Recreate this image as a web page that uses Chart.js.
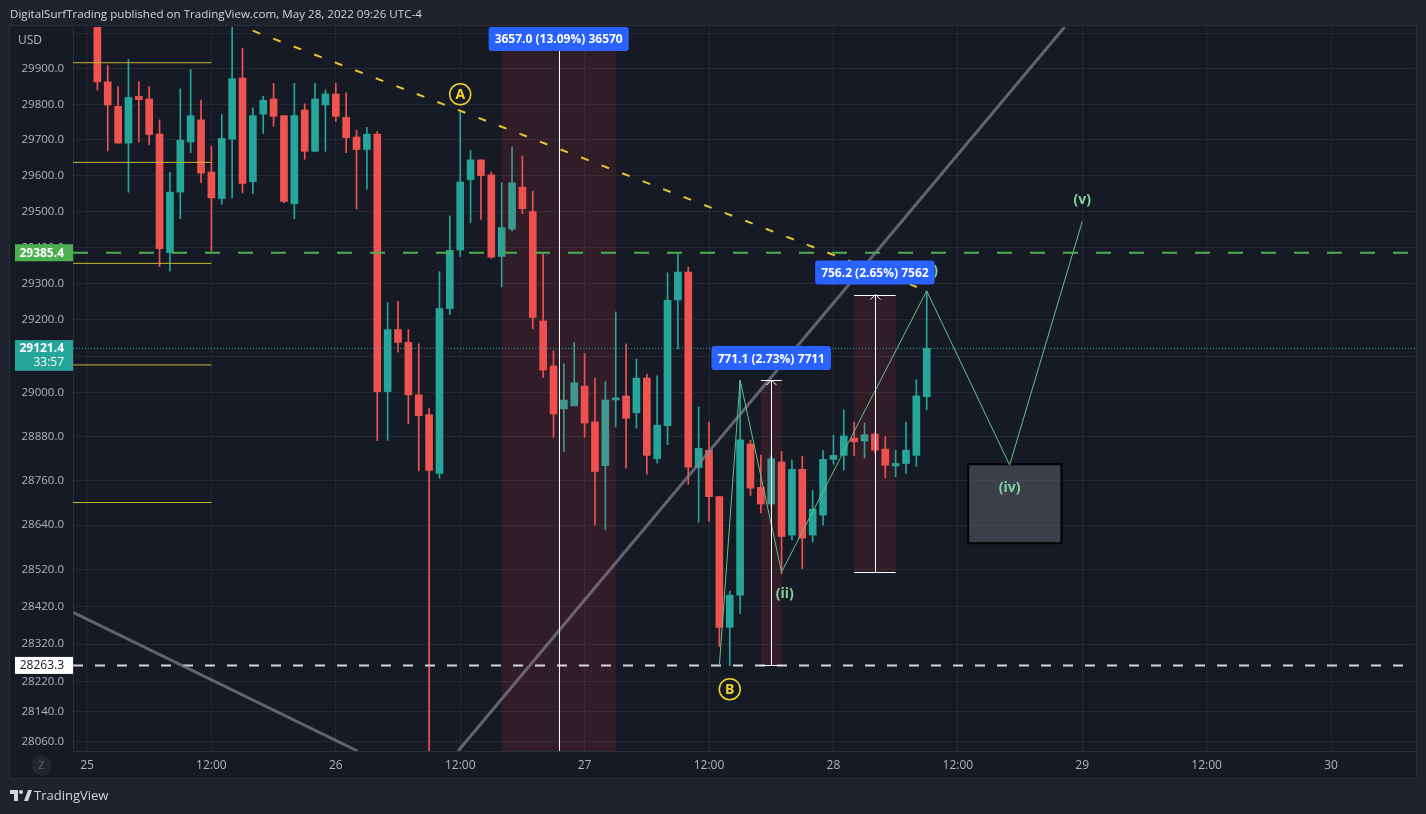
<!DOCTYPE html>
<html>
<head>
<meta charset="utf-8">
<title>BTCUSD 1h</title>
<script src="https://cdn.jsdelivr.net/npm/chart.js@4.4.1/dist/chart.umd.min.js"></script>
<style>
  html, body { margin: 0; padding: 0; background: #1e222d; }
  canvas { display: block; }
</style>
</head>
<body>
<canvas id="chart" width="1426" height="814"></canvas>
<script>
// hourly candles, x = hours since May 25 00:00 (UTC-4), first candle at 01:00
const firstHour = 1;
const opens = [30050, 29863, 29794, 29691, 29822, 29815, 29716, 29386, 29554, 29694,
  29756, 29610, 29536, 29702, 29874, 29583, 29772, 29815, 29768, 29522,
  29784, 29668, 29798, 29829, 29763, 29708, 29673, 29716, 29003, 29173,
  29138, 28994, 28940, 28780, 29231, 29393, 29589, 29644, 29602, 29375,
  29451, 29568, 29500, 29197, 29073, 28956, 28964, 29018, 28920, 28801,
  28980, 28991, 28945, 29040, 28820, 28910, 29255, 29332, 28796, 28843,
  28717, 28365, 28451, 28860, 28742, 28697, 28811, 28613, 28791, 28613,
  28667, 28818, 28829, 28876, 28868, 28887, 28846, 28800, 28807, 28829,
  28989];
const highs = [30090, 29909, 29850, 29926, 29864, 29850, 29756, 29609, 29843, 29898,
  29812, 29682, 29771, 30040, 29958, 29790, 29822, 29859, 29768, 29859,
  29801, 29859, 29840, 29859, 29832, 29727, 29735, 29724, 29247, 29251,
  29173, 29134, 28958, 29333, 29488, 29778, 29670, 29644, 29610, 29580,
  29680, 29655, 29556, 29382, 29115, 29079, 29138, 29107, 29040, 29030,
  29222, 29134, 29092, 29051, 29046, 29330, 29382, 29346, 28961, 28920,
  28717, 28462, 29034, 28870, 28830, 28830, 28840, 28816, 28827, 28734,
  28843, 28884, 28953, 28920, 28917, 28890, 28880, 28843, 28920, 29036,
  29279];
const lows = [29840, 29669, 29690, 29554, 29694, 29686, 29347, 29335, 29480, 29664,
  29580, 29390, 29520, 29538, 29552, 29550, 29718, 29738, 29524, 29480,
  29646, 29668, 29668, 29752, 29664, 29507, 29562, 28869, 28870, 29111,
  28915, 28787, 27900, 28767, 29214, 29375, 29469, 29478, 29370, 29291,
  29446, 29494, 29176, 29042, 28878, 28839, 28964, 28878, 28640, 28627,
  28906, 28794, 28903, 28778, 28808, 28858, 29120, 28750, 28648, 28650,
  28314, 28263, 28402, 28720, 28673, 28690, 28509, 28600, 28523, 28594,
  28640, 28805, 28789, 28829, 28822, 28835, 28768, 28771, 28780, 28799,
  28953];
const closes = [29863, 29798, 29691, 29819, 29813, 29715, 29397, 29554, 29699, 29768,
  29607, 29538, 29704, 29872, 29578, 29768, 29811, 29766, 29528, 29768,
  29668, 29815, 29829, 29766, 29706, 29673, 29716, 29003, 29173, 29138,
  28994, 28937, 28788, 29231, 29392, 29582, 29644, 29600, 29373, 29455,
  29580, 29508, 29207, 29062, 28942, 28980, 29027, 28917, 28785, 28980,
  28986, 28930, 29040, 28829, 28911, 29254, 29332, 28797, 28848, 28717,
  28365, 28451, 28871, 28740, 28697, 28820, 28609, 28791, 28605, 28683,
  28818, 28829, 28882, 28866, 28885, 28843, 28802, 28807, 28843, 28991,
  29121.4];

// axes
const xMin = -1.35, xMax = 128.1;
const yMin = 28036, yMax = 30018;
const xTicks = [0, 12, 24, 36, 48, 60, 72, 84, 96, 108, 120];
const xTickLabels = ['25', '12:00', '26', '12:00', '27', '12:00', '28', '12:00', '29', '12:00', '30'];
const yTicks = [30000, 29900, 29800, 29700, 29600, 29500, 29400, 29300, 29200, 29100, 29000,
  28880, 28760, 28640, 28520, 28420, 28320, 28220, 28140, 28060];

// price levels
const lastPrice = 29121.4;
const countdown = '33:57';
const greenLevel = 29385.4;
const whiteLevel = 28263.3;
const yellowLevels = [29917, 29637, 29356, 29076, 28701];
const yellowLevelEnd = 12;

// trend lines
const trendHours = [14, 81];
const trendPrices = [30030, 29280];
const greyLowHours = [-1.35, 26.1];
const greyLowPrices = [28405, 28036];
const greyUpHours = [35.8, 94.3];
const greyUpPrices = [28036, 30018];

// elliott count
const waveHours = [61, 63, 67, 81, 89, 96];
const wavePrices = [28263.3, 29034.4, 28513.5, 29280, 28803, 29472];
const waveLabelHours = [63, 67.3, 81, 89, 96];
const waveLabelPrices = [29099, 28454, 29336, 28740, 29532];
const waveLabels = ['(i)', '(ii)', '(iii)', '(iv)', '(v)'];
const markerHours = [36, 62];
const markerPrices = [29828, 28200];
const markerLabels = ['A', 'B'];
const boxHours = [85, 94];
const boxPrices = [28805, 28591];

// date/price range measures
const rangeStart = [40, 65, 74];
const rangeEnd = [51, 67, 78];
const rangeLow = [27937, 28263.3, 28513.5];
const rangeHigh = [31594, 29034.4, 29269.7];
const rangeLabels = ['3657.0 (13.09%) 36570', '771.1 (2.73%) 7711', '756.2 (2.65%) 7562'];

const up = '#26a69a', down = '#ef5350';
const font = "'Open Sans', sans-serif";
Chart.defaults.font.family = font;

const candleColors = opens.map((o, i) => closes[i] >= o ? up : down);
const wickData = opens.map((o, i) => ({ x: firstHour + i, y: [lows[i], highs[i]] }));
const bodyData = opens.map((o, i) => ({ x: firstHour + i, y: [o, closes[i]] }));

function lineSet(xs, ys, color, width, dash, order) {
  return {
    type: 'line',
    data: xs.map((x, i) => ({ x: x, y: ys[i] })),
    borderColor: color,
    borderWidth: width,
    borderDash: dash,
    pointRadius: 0,
    fill: false,
    tension: 0,
    order: order
  };
}

const datasets = [
  { type: 'bar', data: wickData, backgroundColor: candleColors, barThickness: 1, grouped: false, order: 3 },
  { type: 'bar', data: bodyData, backgroundColor: candleColors, barThickness: 7, minBarLength: 1, grouped: false, order: 2 },
  lineSet(greyLowHours, greyLowPrices, 'rgba(130,133,143,0.7)', 3, [], 1),
  lineSet(greyUpHours, greyUpPrices, 'rgba(130,133,143,0.7)', 3, [], 1),
  lineSet([xMin, xMax], [greenLevel, greenLevel], '#4caf50', 2, [15, 18], 1),
  lineSet([xMin, xMax], [whiteLevel, whiteLevel], '#d1d4dc', 2, [10, 12], 1),
  lineSet([xMin, xMax], [lastPrice, lastPrice], up, 1, [1, 2], 1),
  lineSet(trendHours, trendPrices, '#e8c52c', 2, [8, 14], 1),
  lineSet(waveHours, wavePrices, '#62c08c', 1, [], 0)
];
yellowLevels.forEach(p => {
  datasets.push(lineSet([xMin, yellowLevelEnd], [p, p], '#c9b42e', 1, [], 1));
});
const bodyIndex = 1;

function roundRect(ctx, x, y, w, h, r) {
  ctx.beginPath();
  ctx.moveTo(x + r, y);
  ctx.arcTo(x + w, y, x + w, y + h, r);
  ctx.arcTo(x + w, y + h, x, y + h, r);
  ctx.arcTo(x, y + h, x, y, r);
  ctx.arcTo(x, y, x + w, y, r);
  ctx.closePath();
}

const drawings = {
  id: 'drawings',
  beforeDraw(chart) {
    const ctx = chart.ctx, area = chart.chartArea;
    const ys = chart.scales.y, xs = chart.scales.x;
    ctx.save();
    ctx.fillStyle = '#1e222d';
    ctx.fillRect(0, 0, chart.width, chart.height);
    ctx.fillStyle = '#161a25';
    ctx.fillRect(ys.left, area.top - 1, area.right - ys.left + 1, xs.bottom - area.top + 1);
    ctx.strokeStyle = '#2a2e39';
    ctx.lineWidth = 1;
    ctx.strokeRect(ys.left - 0.5, area.top - 1.5, area.right - ys.left + 2, xs.bottom - area.top + 2);
    // title
    ctx.fillStyle = '#d1d4dc';
    ctx.font = '11.6px ' + font;
    ctx.textBaseline = 'middle';
    ctx.fillText('DigitalSurfTrading published on TradingView.com, May 28, 2022 09:26 UTC-4', 10, 15);
    ctx.restore();
  },
  afterDatasetDraw(chart, args) {
    if (args.index !== bodyIndex) return;
    const ctx = chart.ctx, area = chart.chartArea;
    const x = chart.scales.x, y = chart.scales.y;
    ctx.save();
    ctx.beginPath();
    ctx.rect(area.left, area.top, area.right - area.left, area.bottom - area.top);
    ctx.clip();
    ctx.fillStyle = 'rgba(242,54,69,0.12)';
    rangeStart.forEach((s, i) => {
      const x1 = x.getPixelForValue(s), x2 = x.getPixelForValue(rangeEnd[i]);
      const y1 = y.getPixelForValue(rangeHigh[i]), y2 = y.getPixelForValue(rangeLow[i]);
      ctx.fillRect(x1, y1, x2 - x1, y2 - y1);
    });
    // wave (iv) target box
    const bx1 = x.getPixelForValue(boxHours[0]), bx2 = x.getPixelForValue(boxHours[1]);
    const by1 = y.getPixelForValue(boxPrices[0]), by2 = y.getPixelForValue(boxPrices[1]);
    ctx.fillStyle = 'rgba(120,123,134,0.38)';
    ctx.fillRect(bx1, by1, bx2 - bx1, by2 - by1);
    ctx.strokeStyle = '#000000';
    ctx.lineWidth = 2;
    ctx.strokeRect(bx1, by1, bx2 - bx1, by2 - by1);
    ctx.restore();
  },
  afterDraw(chart) {
    const ctx = chart.ctx, area = chart.chartArea;
    const x = chart.scales.x, y = chart.scales.y;
    ctx.save();
    ctx.beginPath();
    ctx.rect(area.left, area.top, area.right - area.left, area.bottom - area.top);
    ctx.clip();

    // wave labels
    ctx.font = 'bold 14px ' + font;
    ctx.textAlign = 'center';
    ctx.textBaseline = 'middle';
    ctx.fillStyle = '#7fd4a0';
    waveLabels.forEach((t, i) => {
      ctx.fillText(t, x.getPixelForValue(waveLabelHours[i]), y.getPixelForValue(waveLabelPrices[i]));
    });

    // A / B markers
    markerLabels.forEach((t, i) => {
      const mx = x.getPixelForValue(markerHours[i]), my = y.getPixelForValue(markerPrices[i]);
      ctx.beginPath();
      ctx.arc(mx, my, 10.5, 0, Math.PI * 2);
      ctx.strokeStyle = '#f2d22e';
      ctx.lineWidth = 1.5;
      ctx.stroke();
      ctx.fillStyle = '#f2d22e';
      ctx.font = 'bold 14px ' + font;
      ctx.fillText(t, mx, my + 1);
    });

    // range measures
    rangeStart.forEach((s, i) => {
      const x1 = x.getPixelForValue(s), x2 = x.getPixelForValue(rangeEnd[i]);
      const cx = Math.round((x1 + x2) / 2) + 0.5;
      const yT = y.getPixelForValue(rangeHigh[i]), yB = y.getPixelForValue(rangeLow[i]);
      ctx.strokeStyle = '#ffffff';
      ctx.lineWidth = 1;
      ctx.beginPath();
      ctx.moveTo(cx, yT); ctx.lineTo(cx, yB);
      ctx.moveTo(x1, Math.round(yT) + 0.5); ctx.lineTo(x2, Math.round(yT) + 0.5);
      ctx.moveTo(x1, Math.round(yB) + 0.5); ctx.lineTo(x2, Math.round(yB) + 0.5);
      ctx.moveTo(cx - 5, yT + 5); ctx.lineTo(cx, yT); ctx.lineTo(cx + 5, yT + 5);
      ctx.stroke();
    });
    ctx.font = 'bold 12px ' + font;
    rangeStart.forEach((s, i) => {
      const x1 = x.getPixelForValue(s), x2 = x.getPixelForValue(rangeEnd[i]);
      const cx = (x1 + x2) / 2;
      const yT = y.getPixelForValue(rangeHigh[i]);
      const w = ctx.measureText(rangeLabels[i]).width + 12, h = 24;
      const ly = Math.max(area.top, yT - 10 - h);
      ctx.fillStyle = '#2962ff';
      roundRect(ctx, cx - w / 2, ly, w, h, 3);
      ctx.fill();
      ctx.fillStyle = '#ffffff';
      ctx.fillText(rangeLabels[i], cx, ly + h / 2 + 1);
    });
    ctx.restore();

    // axis tags and chrome
    ctx.save();
    const tagL = y.left + 5, tagR = y.right;
    const tagText = tagR - 9;
    ctx.textAlign = 'right';
    ctx.textBaseline = 'middle';
    let ty = y.getPixelForValue(greenLevel);
    ctx.fillStyle = '#4caf50';
    ctx.fillRect(tagL, ty - 8.5, tagR - tagL, 17);
    ctx.fillStyle = '#ffffff';
    ctx.font = 'bold 12px ' + font;
    ctx.fillText(greenLevel.toFixed(1), tagText, ty + 0.5);

    ty = y.getPixelForValue(lastPrice);
    ctx.fillStyle = up;
    ctx.fillRect(tagL, ty - 8.3, tagR - tagL, 30.7);
    ctx.fillStyle = '#ffffff';
    ctx.fillText(lastPrice.toFixed(1), tagText, ty + 0.5);
    ctx.font = '12px ' + font;
    ctx.fillText(countdown, tagText, ty + 14.5);

    ty = y.getPixelForValue(whiteLevel);
    ctx.fillStyle = '#ffffff';
    ctx.fillRect(tagL, ty - 8.5, tagR - tagL, 17);
    ctx.fillStyle = '#131722';
    ctx.font = '12px ' + font;
    ctx.fillText(whiteLevel.toFixed(1), tagText, ty + 0.5);

    // currency, zoom button
    ctx.textAlign = 'left';
    ctx.fillStyle = '#b2b5be';
    ctx.font = '12px ' + font;
    ctx.fillText('USD', y.left + 8, area.top + 14);
    const zx = (y.left + y.right) / 2, zy = (x.top + x.bottom) / 2 + 1;
    ctx.beginPath();
    ctx.arc(zx, zy, 10, 0, Math.PI * 2);
    ctx.fillStyle = '#22262f';
    ctx.fill();
    ctx.fillStyle = '#5d606b';
    ctx.textAlign = 'center';
    ctx.font = '11px ' + font;
    ctx.fillText('Z', zx, zy);

    // TradingView logo
    const lx = 10, ly = x.bottom + 12;
    ctx.fillStyle = '#d1d4dc';
    ctx.fillRect(lx, ly, 8, 4);
    ctx.fillRect(lx + 4, ly, 4, 11);
    ctx.beginPath();
    ctx.arc(lx + 11, ly + 2, 2, 0, Math.PI * 2);
    ctx.fill();
    ctx.beginPath();
    ctx.moveTo(lx + 14, ly + 11);
    ctx.lineTo(lx + 18, ly);
    ctx.lineTo(lx + 22, ly);
    ctx.lineTo(lx + 18, ly + 11);
    ctx.closePath();
    ctx.fill();
    ctx.textAlign = 'left';
    ctx.font = '13px ' + font;
    ctx.fillText('TradingView', lx + 24, ly + 6);
    ctx.restore();
  }
};

const chart = new Chart(document.getElementById('chart'), {
  type: 'bar',
  data: { datasets: datasets },
  options: {
    responsive: false,
    animation: false,
    events: [],
    layout: { padding: { left: 10, top: 27, right: 11, bottom: 36 } },
    plugins: { legend: { display: false }, tooltip: { enabled: false } },
    scales: {
      x: {
        type: 'linear',
        position: 'bottom',
        min: xMin,
        max: xMax,
        offset: false,
        bounds: 'data',
        grid: { color: '#242833', offset: false, drawTicks: false },
        border: { color: '#2a2e39' },
        afterBuildTicks: axis => { axis.ticks = xTicks.map(v => ({ value: v })); },
        afterFit: axis => { axis.height = 27; },
        ticks: {
          autoSkip: false,
          maxRotation: 0,
          padding: 7,
          color: '#b2b5be',
          font: { size: 12 },
          callback: (v, i) => xTickLabels[i]
        }
      },
      y: {
        type: 'logarithmic',
        position: 'left',
        min: yMin,
        max: yMax,
        bounds: 'data',
        beginAtZero: false,
        grid: { color: '#242833', drawTicks: false },
        border: { color: '#2a2e39' },
        afterBuildTicks: axis => { axis.ticks = yTicks.map(v => ({ value: v })); },
        afterFit: axis => { axis.width = 63; },
        ticks: {
          autoSkip: false,
          padding: 9,
          color: '#b2b5be',
          font: { size: 11.5 },
          callback: v => v === 30000 ? '' : Number(v).toFixed(1)
        }
      }
    }
  },
  plugins: [drawings]
});
</script>
</body>
</html>
